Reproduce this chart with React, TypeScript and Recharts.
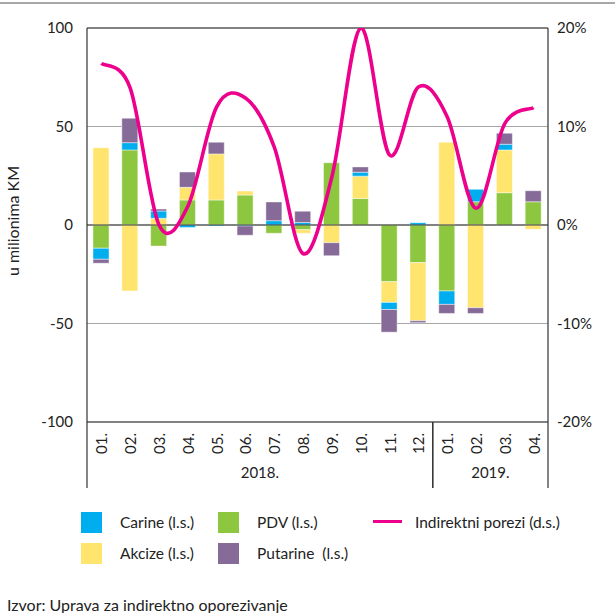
import React from 'react';
import { ComposedChart, Bar, Line, XAxis, YAxis, CartesianGrid, ReferenceLine } from 'recharts';

const months = ['01.', '02.', '03.', '04.', '05.', '06.', '07.', '08.', '09.', '10.', '11.', '12.', '01.', '02.', '03.', '04.'];
const yearLabels = ['2018.', '2019.'];
const yearStarts = [0, 12];
const yearLengths = [12, 4];

const carine = [-5.6, 3.7, 3.7, -1.3, -0.5, -0.5, 2.2, 1.3, 0, 2.0, -3.6, 1.2, -6.8, 6.3, 2.9, 0];
const akcize = [39.2, -33.5, 3.4, 6.4, 23.4, 2.0, 0, -1.8, -9.0, 11.3, -10.5, -29.5, 42.0, -42.0, 21.7, -2.2];
const pdv = [-11.8, 38.1, -10.7, 12.7, 12.7, 15.2, -4.2, -2.4, 31.6, 13.5, -28.8, -19.1, -33.5, 11.8, 16.4, 11.8];
const putarine = [-2.0, 12.4, 1.0, 7.8, 5.9, -4.7, 9.5, 5.7, -6.6, 2.7, -11.5, -1.0, -4.6, -2.9, 5.6, 5.6];
const indirektni = [16.4, 13.9, 0.0, 1.9, 12.0, 12.9, 7.9, -2.9, 4.9, 20.0, 7.1, 14.0, 11.0, 1.7, 10.3, 11.9];

const leftTicks = [-100, -50, 0, 50, 100];
const rightTicks = [-20, -10, 0, 10, 20];

const data = months.map((m, i) => ({
  key: `${i}`,
  month: m,
  carine: carine[i],
  akcize: akcize[i],
  pdv: pdv[i],
  putarine: putarine[i],
  indirektni: indirektni[i],
}));

const FONT = 'Lato, "Open Sans", sans-serif';
const C_CARINE = '#00AEEF';
const C_AKCIZE = '#FFE46E';
const C_PDV = '#8DC63F';
const C_PUTARINE = '#866A97';
const C_LINE = '#EC008C';

const catmullRom = (context: any) => {
  let pts: number[][] = [];
  return {
    areaStart() {},
    areaEnd() {},
    lineStart() {
      pts = [];
    },
    point(x: number, y: number) {
      pts.push([+x, +y]);
    },
    lineEnd() {
      const n = pts.length;
      if (!n) return;
      context.moveTo(pts[0][0], pts[0][1]);
      for (let i = 0; i < n - 1; i++) {
        const p0 = pts[Math.max(0, i - 1)];
        const p1 = pts[i];
        const p2 = pts[i + 1];
        const p3 = pts[Math.min(n - 1, i + 2)];
        const c1x = p1[0] + (p2[0] - p0[0]) / 6;
        const c1y = p1[1] + (p2[1] - p0[1]) / 6;
        const c2x = p2[0] - (p3[0] - p1[0]) / 6;
        const c2y = p2[1] - (p3[1] - p1[1]) / 6;
        context.bezierCurveTo(c1x, c1y, c2x, c2y, p2[0], p2[1]);
      }
    },
  };
};

const MonthTick = (props: any) => {
  const { x, y, payload, index } = props;
  const half = payload && payload.offset ? payload.offset : 14.4;
  const items: any[] = [];
  yearStarts.forEach((s, k) => {
    const e = s + yearLengths[k] - 1;
    if (index === s) {
      items.push(<line key={`ls${k}`} x1={x - half} x2={x - half} y1={y} y2={y + 66} stroke="#333" strokeWidth={1.2} />);
      items.push(
        <text key={`yl${k}`} x={x - half + yearLengths[k] * half} y={y + 50} textAnchor="middle" dominantBaseline="central" fontSize={15} fill="#222" fontFamily={FONT}>
          {yearLabels[k]}
        </text>
      );
    }
    if (index === e) {
      items.push(<line key={`le${k}`} x1={x + half} x2={x + half} y1={y} y2={y + 66} stroke="#333" strokeWidth={1.2} />);
    }
  });
  return (
    <g>
      <text x={x} y={y + 11} transform={`rotate(-90, ${x}, ${y + 11})`} textAnchor="end" dominantBaseline="central" fontSize={15} fill="#222" fontFamily={FONT}>
        {payload.value}
      </text>
      {items}
    </g>
  );
};

const LegendSwatch = ({ color, left, top }: any) => (
  <div style={{ position: 'absolute', left, top, width: 21, height: 21, background: color }} />
);

const LegendText = ({ text, left, top }: any) => (
  <div style={{ position: 'absolute', left, top, fontSize: 15.5, lineHeight: '20px', color: '#222', whiteSpace: 'pre', fontFamily: FONT }}>{text}</div>
);

export default function App() {
  return (
    <div style={{ position: 'fixed', left: 0, top: 0, width: 615, height: 613, background: '#fff', fontFamily: FONT, overflow: 'hidden' }}>
      <div style={{ position: 'absolute', left: 0, top: 2, width: 615, height: 2, background: '#a8a8a8' }} />
      <div style={{ position: 'absolute', left: 0, top: 0 }}>
        <ComposedChart
          width={615}
          height={488}
          data={data}
          stackOffset="sign"
          margin={{ top: 28, right: 0, bottom: 0, left: 0 }}
        >
          <CartesianGrid vertical={false} stroke="#a6a6a6" strokeWidth={1.2} yAxisId="left" />
          <XAxis
            dataKey="key"
            tickFormatter={(v: any) => months[+v]}
            tick={(p: any) => <MonthTick {...p} payload={{ ...p.payload, value: months[+p.payload.value] }} />}
            interval={0}
            height={66}
            tickLine={false}
            tickSize={0}
            tickMargin={0}
            axisLine={{ stroke: '#333', strokeWidth: 1.2 }}
          />
          <YAxis
            yAxisId="left"
            domain={[-100, 100]}
            ticks={leftTicks}
            width={87}
            tickLine={false}
            tickSize={0}
            tickMargin={14}
            axisLine={{ stroke: '#333', strokeWidth: 1.2 }}
            tick={{ fontSize: 15, fill: '#222', fontFamily: FONT }}
            allowDataOverflow
          />
          <YAxis
            yAxisId="right"
            orientation="right"
            domain={[-20, 20]}
            ticks={rightTicks}
            width={67}
            tickLine={false}
            tickSize={0}
            tickMargin={9}
            tickFormatter={(v: number) => `${v}%`}
            axisLine={{ stroke: '#333', strokeWidth: 1.2 }}
            tick={{ fontSize: 15, fill: '#222', fontFamily: FONT, textAnchor: 'start' }}
            allowDataOverflow
          />
          <ReferenceLine yAxisId="left" y={0} stroke="#333" strokeWidth={1.2} />
          <ReferenceLine yAxisId="left" y={100} stroke="#333" strokeWidth={1.2} />
          <Bar yAxisId="left" dataKey="pdv" stackId="a" fill={C_PDV} stroke="#ffffff" strokeOpacity={0.45} strokeWidth={1} barSize={16} isAnimationActive={false} />
          <Bar yAxisId="left" dataKey="akcize" stackId="a" fill={C_AKCIZE} stroke="#ffffff" strokeOpacity={0.45} strokeWidth={1} barSize={16} isAnimationActive={false} />
          <Bar yAxisId="left" dataKey="carine" stackId="a" fill={C_CARINE} stroke="#ffffff" strokeOpacity={0.45} strokeWidth={1} barSize={16} isAnimationActive={false} />
          <Bar yAxisId="left" dataKey="putarine" stackId="a" fill={C_PUTARINE} stroke="#ffffff" strokeOpacity={0.45} strokeWidth={1} barSize={16} isAnimationActive={false} />
          <Line yAxisId="right" dataKey="indirektni" type={catmullRom as any} stroke={C_LINE} strokeWidth={3.6} dot={false} activeDot={false} isAnimationActive={false} />
        </ComposedChart>
      </div>
      <svg style={{ position: 'absolute', left: 0, top: 0 }} width={30} height={488}>
        <text x={12} y={221} transform="rotate(-90, 12, 221)" textAnchor="middle" dominantBaseline="central" fontSize={16} fill="#222" fontFamily={FONT}>
          u milionima KM
        </text>
      </svg>
      <LegendSwatch color={C_CARINE} left={81} top={512} />
      <LegendText text="Carine (l.s.)" left={120} top={512} />
      <LegendSwatch color={C_PDV} left={218} top={512} />
      <LegendText text="PDV (l.s.)" left={257} top={512} />
      <div style={{ position: 'absolute', left: 373, top: 520, width: 29, height: 3, background: C_LINE }} />
      <LegendText text="Indirektni porezi (d.s.)" left={415} top={512} />
      <LegendSwatch color={C_AKCIZE} left={81} top={543} />
      <LegendText text="Akcize (l.s.)" left={120} top={543} />
      <LegendSwatch color={C_PUTARINE} left={218} top={543} />
      <LegendText text="Putarine  (l.s.)" left={257} top={543} />
      <div style={{ position: 'absolute', left: 7, top: 595, fontSize: 16, lineHeight: '20px', color: '#222', whiteSpace: 'pre', fontFamily: FONT }}>
        Izvor: Uprava za indirektno oporezivanje
      </div>
    </div>
  );
}
